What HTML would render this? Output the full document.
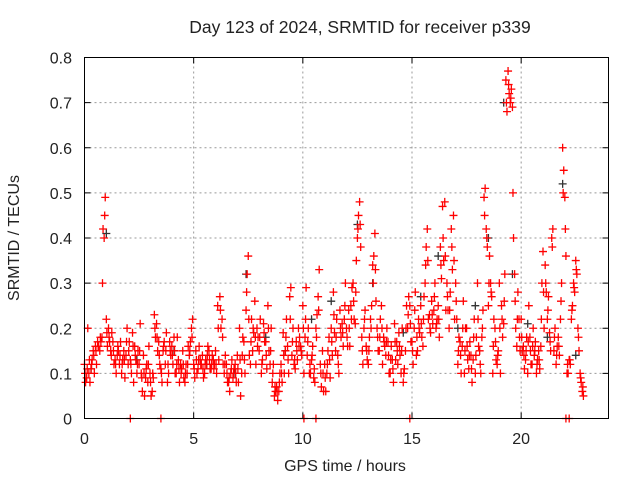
<!DOCTYPE html>
<html><head><meta charset="utf-8"><style>
body{margin:0;background:#fff}
svg{display:block;font-family:"Liberation Sans",sans-serif}
</style></head><body>
<svg id="chart" width="640" height="480" viewBox="0 0 640 480">
<rect x="0" y="0" width="640" height="480" fill="#fff"/>
<text x="360" y="33" font-size="17.5" text-anchor="middle" fill="#222">Day 123 of 2024, SRMTID for receiver p339</text>
<text x="345" y="471" font-size="16" text-anchor="middle" fill="#222">GPS time / hours</text>
<text x="19" y="238" font-size="16" text-anchor="middle" fill="#222" transform="rotate(-90 19 238)">SRMTID / TECUs</text>
<g id="grid"></g><g id="ticks"></g><g id="dark"></g><g id="red"></g>
<rect x="84.5" y="57.5" width="524" height="361" fill="none" stroke="#000" stroke-width="1"/>
</svg>
<script>
const xTicks=[0,5,10,15,20];
const yTicks=[0,0.1,0.2,0.3,0.4,0.5,0.6,0.7,0.8];
const yTickLabels=["0","0.1","0.2","0.3","0.4","0.5","0.6","0.7","0.8"];
const startHour=0, stepHour=0.1;
const srmtidA=[
.12,.09,.1,.11,.15,.16,.17,.15,.18,.4,
.22,.2,.15,.17,.13,.14,.12,.1,.15,.14,
.12,.13,.19,.16,.1,.12,.1,.14,.09,.08,
.1,.06,.23,.21,.17,.11,.15,.12,.08,.17,
.16,.18,.1,.13,.12,.15,.08,.1,.14,.2,
.12,.15,.11,.13,.14,.1,.12,.15,.11,.13,
.15,.25,.27,.22,.1,.12,.08,.1,.09,.12,
.14,.2,.1,.17,.24,.36,.12,.15,.26,.2,
.15,.1,.21,.17,.25,.12,.08,.05,.07,.06,
.12,.19,.15,.16,.27,.14,.12,.17,.2,.16,
.25,.18,.14,.1,.13,.09,.2,.27,.12,.15,
.12,.1,.18,.2,.28,.15,.14,.24,.21,.22,
.2,.24,.25,.3,.21,.4,.48,.18,.2,.16,
.12,.22,.34,.41,.2,.15,.25,.18,.14,.17,
.1,.13,.21,.17,.19,.1,.08,.15,.2,.25,
.17,.2,.14,.22,.25,.16,.3,.42,.23,.26,
.24,.2,.25,.38,.47,.48,.3,.2,.42,.45,
.3,.12,.17,.16,.1,.2,.11,.14,.13,.1,
.3,.15,.18,.49,.42,.25,.3,.1,.2,.12,
.3,.25,.21,.75,.77,.7,.69,.32,.16,.22,
.22,.16,.13,.1,.18,.12,.14,.1,.15,.16,
.37,.34,.22,.19,.4,.15,.12,.18,.22,.6,
.49,.1,.13,.22,.3,.35,.2,.1,.06];
const srmtidB=[
.08,.2,.08,.13,.1,.12,.16,.17,.42,.49,
.16,.17,.19,.12,.1,.15,.17,.13,.09,.2,
.17,.1,.08,.13,.15,.21,.06,.05,.12,.16,
.05,.09,.18,.15,.12,.08,.17,.19,.1,.14,
.12,.1,.18,.08,.11,.09,.12,.16,.17,.22,
.09,.1,.16,.12,.09,.13,.16,.11,.14,.12,
.1,.13,.2,.12,.14,.08,.06,.13,.11,.08,
.08,.05,.18,.1,.32,.14,.22,.19,.12,.18,
.22,.13,.17,.11,.15,.2,.12,.06,.04,.1,
.08,.1,.22,.1,.29,.2,.11,.13,.18,.14,
.1,.29,.2,.1,.16,.08,.23,.33,.07,.06,
.06,.15,.09,.14,.19,.22,.1,.18,.16,.3,
.16,.16,.29,.22,.35,.45,.38,.12,.24,.13,
.18,.25,.36,.26,.15,.22,.12,.16,.2,.1,
.16,.08,.13,.12,.14,.2,.11,.25,.27,.17,
.12,.28,.15,.19,.18,.27,.38,.22,.19,.21,
.3,.22,.18,.31,.35,.24,.24,.28,.33,.22,
.22,.18,.1,.26,.2,.13,.17,.08,.22,.18,
.16,.1,.24,.51,.38,.36,.27,.22,.13,.15,
.1,.18,.32,.68,.72,.73,.4,.2,.28,.15,
.15,.11,.18,.25,.12,.2,.17,.13,.11,.3,
.2,.28,.27,.15,.42,.2,.16,.14,.3,.55,
.36,.1,.12,.25,.28,.32,.15,.08,.05];
const srmtidC=[
.1,.11,.13,.12,.14,.15,.16,.18,.3,.45,
.19,.18,.14,.15,.12,.16,.14,.12,.13,.17,
.15,.12,.16,.14,.12,.15,.09,.1,.11,.12,
.08,.1,.2,.18,.14,.1,.16,.15,.12,.15,
.14,.15,.12,.11,.1,.12,.1,.12,.15,.18,
.11,.13,.13,.12,.11,.12,.14,.13,.12,.11,
.12,.2,.24,.18,.12,.1,.09,.11,.1,.1,
.11,.13,.14,.13,.28,.22,.17,.2,.18,.16,
.18,.12,.19,.14,.2,.15,.1,.07,.06,.08,
.1,.14,.18,.13,.22,.17,.13,.15,.16,.15,
.2,.22,.17,.12,.14,.11,.18,.24,.1,.1,
.09,.12,.13,.17,.23,.18,.12,.2,.19,.25,
.18,.2,.22,.26,.28,.42,.43,.15,.22,.15,
.15,.2,.3,.33,.18,.18,.2,.17,.17,.14,
.13,.11,.17,.15,.16,.15,.1,.2,.23,.21,
.15,.24,.18,.2,.21,.22,.34,.35,.2,.23,
.27,.21,.22,.34,.4,.36,.27,.24,.38,.35,
.26,.15,.14,.2,.15,.16,.14,.11,.18,.14,
.22,.12,.2,.45,.4,.3,.28,.16,.17,.14,
.2,.22,.26,.7,.74,.71,.5,.26,.22,.18,
.18,.14,.15,.17,.15,.16,.15,.12,.13,.22,
.28,.3,.24,.17,.38,.18,.14,.16,.26,.5,
.42,.12,.13,.24,.29,.33,.18,.09,.07];
const zeroHours=[2.1,3.5,10.05,10.6,14.9,22.05,22.2];
const darkHours=[0.3,1.0,2.4,4.1,5.6,6.9,7.4,8.3,9.2,10.4,11.3,12.5,13.2,14.6,15.4,16.2,17.1,17.9,18.5,19.2,19.6,20.3,21.2,21.9,22.5];
const darkVals=[0.11,0.41,0.13,0.15,0.12,0.1,0.32,0.18,0.15,0.22,0.26,0.43,0.3,0.19,0.27,0.36,0.2,0.25,0.4,0.7,0.32,0.21,0.18,0.52,0.14];

const NS="http://www.w3.org/2000/svg";
const X0=84.5,X1=608.5,Y0=418.5,Y1=57.5;
function xs(h){return X0+(h/24)*(X1-X0);}
function ys(v){return Y0-(v/0.8)*(Y0-Y1);}
const grid=document.getElementById('grid'),ticks=document.getElementById('ticks');
function mk(tag,at,parent){const e=document.createElementNS(NS,tag);for(const k in at)e.setAttribute(k,at[k]);parent.appendChild(e);return e;}
xTicks.forEach(t=>{
  const x=xs(t);
  if(t>0){const g=mk('line',{x1:x,x2:x,y1:Y0,y2:Y1,stroke:'#999','stroke-dasharray':'2,3'},grid);
  
  }
  const tk=mk('path',{d:`M${x},${Y0}v-6M${x},${Y1}v6`,stroke:'#000'},ticks);
  
  
  const l=mk('text',{x:x,y:444,'font-size':16,'text-anchor':'middle',fill:'#222'},ticks);
  l.textContent=String(t);
  
  
});
yTicks.forEach((t,i)=>{
  const y=ys(t);
  if(t>0&&t<0.8){const g=mk('line',{x1:X0,x2:X1,y1:y,y2:y,stroke:'#999','stroke-dasharray':'2,3'},grid);
  
  }
  const tk=mk('path',{d:`M${X0},${y}h6M${X1},${y}h-6`,stroke:'#000'},ticks);
  
  
  const l=mk('text',{x:72,y:y+6,'font-size':16,'text-anchor':'end',fill:'#222'},ticks);
  l.textContent=yTickLabels[i];
  
  
});
function plus(h,v,color,parent,name){
  const x=xs(h),y=ys(v);
  const p=mk('path',{d:`M${x-4},${y}h8M${x},${y-4}v8`,stroke:color,'stroke-width':1.3},parent);
  
  
}
const dark=document.getElementById('dark'),red=document.getElementById('red');
darkHours.forEach((h,i)=>plus(h,darkVals[i],'#333',dark,'dark-point'));
srmtidA.forEach((v,i)=>plus(startHour+i*stepHour,v,'#f00',red,'srmtid-point'));
srmtidB.forEach((v,i)=>plus(startHour+i*stepHour+0.05,v,'#f00',red,'srmtid-point'));
srmtidC.forEach((v,i)=>plus(startHour+i*stepHour+0.025,v,'#f00',red,'srmtid-point'));
zeroHours.forEach(h=>plus(h,0,'#f00',red,'zero-point'));
</script>
</body></html>
